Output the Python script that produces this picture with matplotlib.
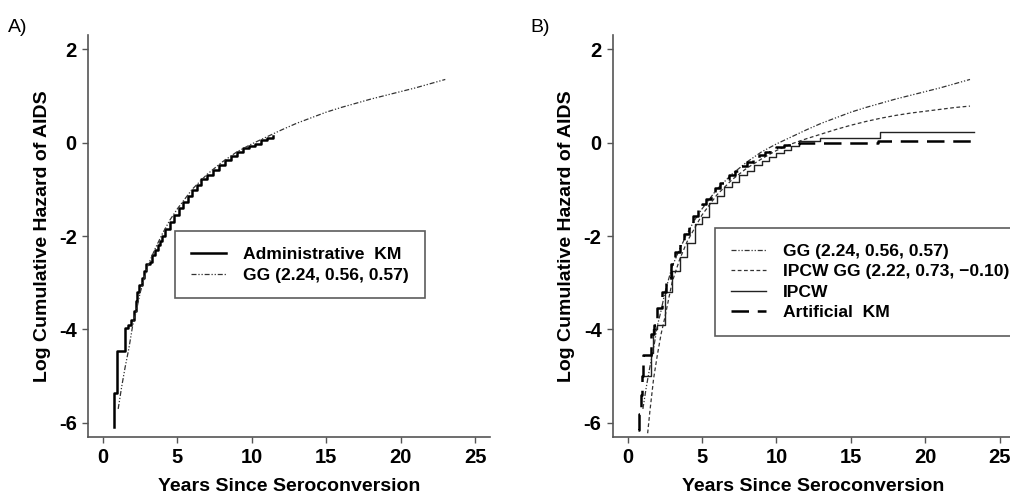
import matplotlib
matplotlib.use('Agg')
import matplotlib.pyplot as pl

# ---- data ----
# panel A: administrative KM (step) and GG fit
km_adm_t = [0.76, 0.78, 0.92, 0.97, 1.48, 1.7, 1.9, 2.1, 2.2, 2.3, 2.45, 2.6,
            2.75, 2.9, 3.15, 3.3, 3.5, 3.7, 3.85, 4.0, 4.2, 4.5, 4.8, 5.1,
            5.4, 5.7, 6.0, 6.3, 6.6, 7.0, 7.4, 7.8, 8.2, 8.6, 9.0, 9.4, 9.8,
            10.2, 10.6, 11.0, 11.45]
km_adm_h = [-6.08, -5.36, -4.69, -4.46, -3.97, -3.9, -3.79, -3.61, -3.4, -3.2,
            -3.05, -2.9, -2.75, -2.6, -2.55, -2.4, -2.3, -2.2, -2.1, -2.0,
            -1.85, -1.7, -1.55, -1.4, -1.27, -1.15, -1.02, -0.9, -0.78, -0.7,
            -0.58, -0.48, -0.38, -0.28, -0.2, -0.12, -0.08, -0.03, 0.05, 0.1,
            0.13]

gg_t = [1.03, 1.25, 1.5, 1.75, 2.0, 2.25, 2.5, 3.0, 3.5, 4.0, 4.5, 5.0, 6.0,
        7.0, 8.0, 9.0, 10.0, 11.0, 12.0, 13.0, 14.0, 15.0, 16.0, 17.0, 18.0,
        19.0, 20.0, 21.0, 22.0, 23.0]
gg_h = [-5.7, -5.25, -4.8, -4.4, -3.92, -3.6, -3.22, -2.65, -2.28, -1.95,
        -1.66, -1.42, -1.0, -0.68, -0.42, -0.2, -0.03, 0.12, 0.27, 0.41, 0.53,
        0.65, 0.75, 0.84, 0.93, 1.01, 1.09, 1.17, 1.26, 1.35]

# panel B: IPCW GG fit, IPCW step, artificial KM step
ipcw_gg_t = [1.35, 1.5, 1.75, 2.0, 2.25, 2.5, 3.0, 3.5, 4.0, 5.0, 6.0, 7.0,
             8.0, 9.0, 10.0, 11.0, 12.0, 13.0, 14.0, 15.0, 16.0, 17.0, 18.0,
             19.0, 20.0, 21.0, 22.0, 23.0]
ipcw_gg_h = [-6.22, -5.75, -5.05, -4.55, -4.1, -3.75, -2.98, -2.5, -2.12,
             -1.55, -1.12, -0.8, -0.55, -0.35, -0.17, -0.03, 0.08, 0.18, 0.28,
             0.37, 0.45, 0.52, 0.58, 0.63, 0.67, 0.71, 0.75, 0.78]

ipcw_t = [1.0, 1.6, 1.7, 2.0, 2.5, 3.0, 3.5, 4.0, 4.5, 5.0, 5.5, 6.0, 6.5,
          7.0, 7.5, 8.0, 8.5, 9.0, 9.5, 10.0, 10.5, 11.0, 11.5, 12.95, 16.97,
          23.3]
ipcw_h = [-5.0, -4.5, -4.0, -3.9, -3.2, -2.75, -2.45, -2.15, -1.75, -1.6,
          -1.3, -1.15, -0.95, -0.85, -0.7, -0.6, -0.48, -0.4, -0.3, -0.22,
          -0.15, -0.08, 0.04, 0.1, 0.22, 0.22]

km_art_t = [0.7, 0.8, 0.92, 1.0, 1.07, 1.6, 1.75, 2.0, 2.3, 2.6, 2.9, 3.2,
            3.5, 3.8, 4.1, 4.4, 4.7, 5.0, 5.3, 5.6, 5.9, 6.2, 6.5, 6.8, 7.2,
            7.6, 8.0, 8.4, 8.8, 9.2, 9.6, 10.0, 10.5, 11.0, 11.5, 16.8, 23.3]
km_art_h = [-6.15, -5.8, -5.4, -5.0, -4.55, -4.1, -3.9, -3.55, -3.2, -2.9,
            -2.6, -2.35, -2.15, -1.95, -1.75, -1.58, -1.45, -1.32, -1.2, -1.08,
            -0.97, -0.87, -0.78, -0.69, -0.6, -0.5, -0.41, -0.33, -0.26, -0.2,
            -0.14, -0.1, -0.06, -0.03, -0.01, 0.04, 0.04]

xticks = [0, 5, 10, 15, 20, 25]
yticks = [-6, -4, -2, 0, 2]


pl.rcParams['font.family'] = ['Liberation Sans', 'DejaVu Sans']
pl.rcParams['axes.unicode_minus'] = False

fig = pl.figure()
fig.set_size_inches(10.1, 4.95)

gg_dash = (0, (4, 1.5, 1, 1.5, 1, 1.5))
ipcw_dash = (0, (3, 2))
art_dash = (0, (7, 3.5))


def style_axes(ax):
    ax.set_xlim(-1, 26)
    ax.set_ylim(-6.3, 2.3)
    ax.set_xticks(xticks)
    ax.set_yticks(yticks)
    ax.spines['right'].set_visible(False)
    ax.spines['top'].set_visible(False)
    for s in ['left', 'bottom']:
        ax.spines[s].set_color('#555555')
        ax.spines[s].set_linewidth(1.2)
    ax.tick_params(direction='out', length=4, width=1, color='#555555',
                   labelsize=14.5, pad=4)
    for lab in ax.get_xticklabels() + ax.get_yticklabels():
        lab.set_fontweight('bold')
    ax.set_xlabel('Years Since Seroconversion', fontsize=14,
                  fontweight='bold', labelpad=8)
    ax.set_ylabel('Log Cumulative Hazard of AIDS', fontsize=14,
                  fontweight='bold', labelpad=6)


# ---- panel A ----
axA = fig.add_axes([0.0871, 0.1172, 0.398, 0.812])
axA.step(km_adm_t, km_adm_h, where='post', color='black', lw=1.8,
         label='Administrative  KM')
axA.plot(gg_t, gg_h, color='#333333', lw=0.9, ls=gg_dash,
         label='GG (2.24, 0.56, 0.57)')
style_axes(axA)
legA = axA.legend(loc='upper left', bbox_to_anchor=(0.216, 0.512),
                  fontsize=12.6, handlelength=2.0, handletextpad=1.0,
                  borderpad=0.9, labelspacing=0.3, fancybox=False,
                  borderaxespad=0)
legA.get_frame().set_edgecolor('#333333')
legA.get_frame().set_linewidth(1.2)
for t in legA.get_texts():
    t.set_fontweight('bold')

# ---- panel B ----
axB = fig.add_axes([0.6066, 0.1172, 0.398, 0.812])
axB.plot(gg_t, gg_h, color='#333333', lw=0.9, ls=gg_dash,
         label='GG (2.24, 0.56, 0.57)')
axB.plot(ipcw_gg_t, ipcw_gg_h, color='#333333', lw=0.9, ls=ipcw_dash,
         label='IPCW GG (2.22, 0.73, \u22120.10)')
axB.step(ipcw_t, ipcw_h, where='post', color='#222222', lw=1.0,
         label='IPCW')
axB.step(km_art_t, km_art_h, where='post', color='black', lw=1.8,
         ls=art_dash, label='Artificial  KM')
style_axes(axB)
legB = axB.legend(loc='upper left', bbox_to_anchor=(0.254, 0.52),
                  fontsize=12.6, handlelength=2.0, handletextpad=1.0,
                  borderpad=0.9, labelspacing=0.3, fancybox=False,
                  borderaxespad=0)
legB.get_frame().set_edgecolor('#333333')
legB.get_frame().set_linewidth(1.2)
for t in legB.get_texts():
    t.set_fontweight('bold')

fig.text(0.008, 0.935, 'A)', fontsize=14)
fig.text(0.525, 0.935, 'B)', fontsize=14)

fig.savefig('out.png', dpi=100)
